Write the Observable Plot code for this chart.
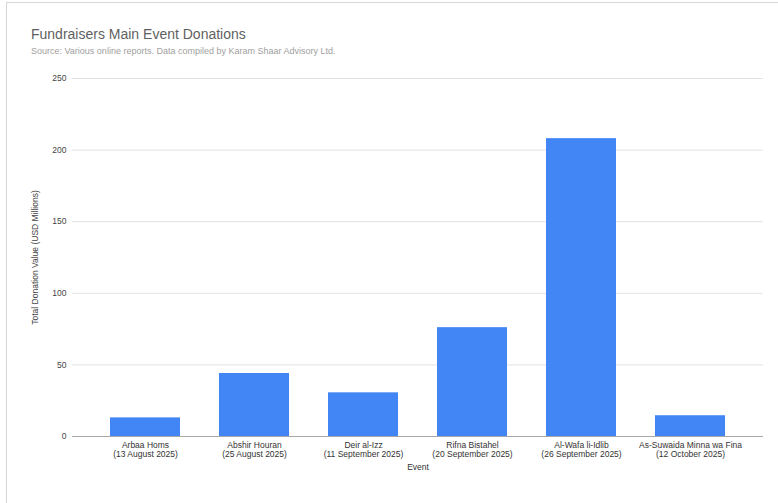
<!DOCTYPE html>
<html>
<head>
<meta charset="utf-8">
<script src="https://cdn.jsdelivr.net/npm/d3@7"></script>
<script src="https://cdn.jsdelivr.net/npm/@observablehq/plot@0.6"></script>
<style>
  html, body { margin: 0; padding: 0; background: #fff; }
  #wrap { position: relative; width: 778px; height: 503px; overflow: hidden; font-family: "Liberation Sans", Arial, sans-serif; }
  #frame { position: absolute; left: 6px; top: 2px; width: 800px; height: 600px; border-left: 1px solid #d6d6d6; border-top: 1px solid #d6d6d6; box-sizing: border-box; }
  #title { position: absolute; left: 31px; top: 26px; font-size: 14px; color: #5f5f5f; white-space: nowrap; }
  #subtitle { position: absolute; left: 31px; top: 46px; font-size: 9px; color: #a0a0a0; white-space: nowrap; }
  #chart { position: absolute; left: 0; top: 0; }
</style>
</head>
<body>
<div id="wrap">
  <div id="frame"></div>
  <div id="chart"></div>
  <div id="title">Fundraisers Main Event Donations</div>
  <div id="subtitle">Source: Various online reports. Data compiled by Karam Shaar Advisory Ltd.</div>
</div>
<script>
// Fundraising events, their dates and total donations (USD millions)
const eventNames = [
  "Arbaa Homs",
  "Abshir Houran",
  "Deir al-Izz",
  "Rifna Bistahel",
  "Al-Wafa li-Idlib",
  "As-Suwaida Minna wa Fina"
];
const eventDates = [
  "13 August 2025",
  "25 August 2025",
  "11 September 2025",
  "20 September 2025",
  "26 September 2025",
  "12 October 2025"
];
const donations = [13, 44, 30.5, 76, 208, 14.5];
const yTicks = [0, 50, 100, 150, 200, 250];

const labels = eventNames.map((n, i) => `${n}\n(${eventDates[i]})`);
const data = labels.map((event, i) => ({event, value: donations[i]}));

const chart = Plot.plot({
  width: 778,
  height: 503,
  marginLeft: 72,
  marginRight: 15,
  marginTop: 78,
  marginBottom: 67,
  style: {fontFamily: "'Liberation Sans', Arial, sans-serif", fontSize: "8.5px", background: "transparent"},
  x: {domain: labels, paddingInner: 0.36, paddingOuter: 0.34},
  y: {domain: [0, 250]},
  marks: [
    Plot.gridY(yTicks, {stroke: "#e3e3e3", strokeOpacity: 1}),
    Plot.barY(data, {x: "event", y: "value", fill: "#4285f4"}),
    Plot.ruleY([0], {stroke: "#a8a8a8", strokeWidth: 1}),
    Plot.axisY(yTicks, {
      tickSize: 0, tickPadding: 6, fill: "#444",
      label: "Total Donation Value (USD Millions)",
      labelAnchor: "center", labelArrow: "none", labelOffset: 41
    }),
    Plot.axisX({
      tickSize: 0, tickPadding: 5, fill: "#333", lineHeight: 1.1,
      label: "Event", labelAnchor: "center", labelArrow: "none", labelOffset: 33
    })
  ]
});
document.getElementById("chart").appendChild(chart);
</script>
</body>
</html>
